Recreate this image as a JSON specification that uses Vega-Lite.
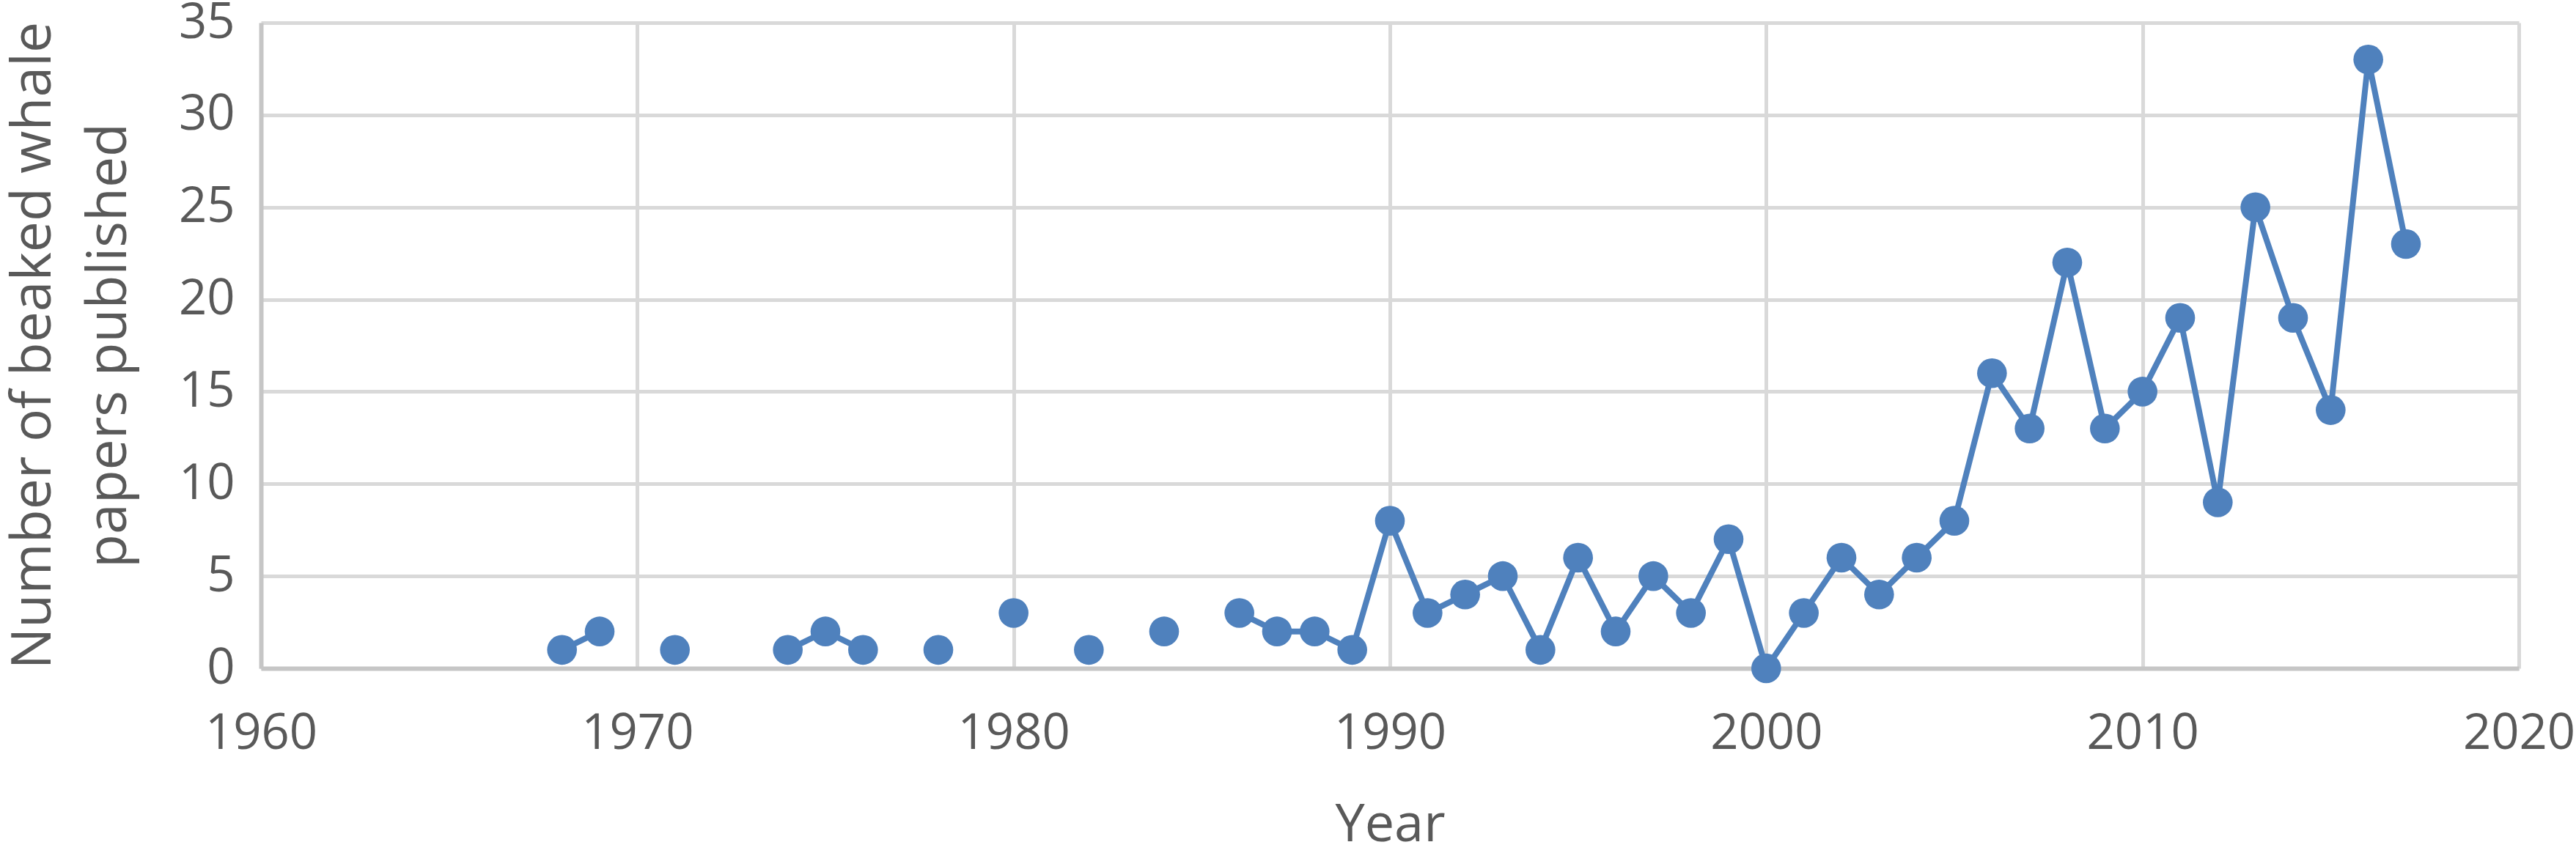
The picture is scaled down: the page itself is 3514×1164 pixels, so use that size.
{
  "$schema": "https://vega.github.io/schema/vega-lite/v6.json",
  "width": 3080,
  "height": 881,
  "autosize": {"type": "none"},
  "padding": {"left": 356, "top": 31, "right": 78, "bottom": 252},
  "background": "white",
  "config": {
    "view": {"stroke": null},
    "font": "Open Sans",
    "axis": {
      "gridColor": "#d9d9d9",
      "gridWidth": 5,
      "domainColor": "#c6c6c6",
      "domainWidth": 6,
      "ticks": false,
      "labelFont": "Open Sans",
      "labelColor": "#595959",
      "labelFontSize": 67,
      "titleFont": "Open Sans",
      "titleColor": "#595959",
      "titleFontWeight": "normal"
    }
  },
  "data": {
    "values": [
      {"year": 1968, "papers": 1, "run": "a"},
      {"year": 1969, "papers": 2, "run": "a"},
      {"year": 1971, "papers": 1, "run": "b"},
      {"year": 1974, "papers": 1, "run": "c"},
      {"year": 1975, "papers": 2, "run": "c"},
      {"year": 1976, "papers": 1, "run": "c"},
      {"year": 1978, "papers": 1, "run": "d"},
      {"year": 1980, "papers": 3, "run": "e"},
      {"year": 1982, "papers": 1, "run": "f"},
      {"year": 1984, "papers": 2, "run": "g"},
      {"year": 1986, "papers": 3, "run": "h"},
      {"year": 1987, "papers": 2, "run": "h"},
      {"year": 1988, "papers": 2, "run": "h"},
      {"year": 1989, "papers": 1, "run": "h"},
      {"year": 1990, "papers": 8, "run": "h"},
      {"year": 1991, "papers": 3, "run": "h"},
      {"year": 1992, "papers": 4, "run": "h"},
      {"year": 1993, "papers": 5, "run": "h"},
      {"year": 1994, "papers": 1, "run": "h"},
      {"year": 1995, "papers": 6, "run": "h"},
      {"year": 1996, "papers": 2, "run": "h"},
      {"year": 1997, "papers": 5, "run": "h"},
      {"year": 1998, "papers": 3, "run": "h"},
      {"year": 1999, "papers": 7, "run": "h"},
      {"year": 2000, "papers": 0, "run": "h"},
      {"year": 2001, "papers": 3, "run": "h"},
      {"year": 2002, "papers": 6, "run": "h"},
      {"year": 2003, "papers": 4, "run": "h"},
      {"year": 2004, "papers": 6, "run": "h"},
      {"year": 2005, "papers": 8, "run": "h"},
      {"year": 2006, "papers": 16, "run": "h"},
      {"year": 2007, "papers": 13, "run": "h"},
      {"year": 2008, "papers": 22, "run": "h"},
      {"year": 2009, "papers": 13, "run": "h"},
      {"year": 2010, "papers": 15, "run": "h"},
      {"year": 2011, "papers": 19, "run": "h"},
      {"year": 2012, "papers": 9, "run": "h"},
      {"year": 2013, "papers": 25, "run": "h"},
      {"year": 2014, "papers": 19, "run": "h"},
      {"year": 2015, "papers": 14, "run": "h"},
      {"year": 2016, "papers": 33, "run": "h"},
      {"year": 2017, "papers": 23, "run": "h"}
    ]
  },
  "encoding": {
    "x": {
      "field": "year",
      "type": "quantitative",
      "scale": {"domain": [1960, 2020], "nice": false, "zero": false},
      "axis": {
        "values": [1960, 1970, 1980, 1990, 2000, 2010, 2020],
        "format": "d",
        "title": "Year",
        "titleFontSize": 72,
        "labelPadding": 56,
        "titlePadding": 56,
        "labelFlush": false
      }
    },
    "y": {
      "field": "papers",
      "type": "quantitative",
      "scale": {"domain": [0, 35], "nice": false},
      "axis": {
        "values": [0, 5, 10, 15, 20, 25, 30, 35],
        "title": ["Number of beaked whale", "papers published"],
        "titleFontSize": 75,
        "titleLineHeight": 103,
        "titleAngle": -90,
        "titleBaseline": "middle",
        "titleAlign": "center",
        "titleX": -311,
        "titleY": 440,
        "labelPadding": 36,
        "labelFlush": false
      }
    }
  },
  "layer": [
    {
      "mark": {"type": "line", "color": "#4F81BD", "strokeWidth": 8},
      "encoding": {"detail": {"field": "run", "type": "nominal"}}
    },
    {
      "mark": {"type": "point", "filled": true, "shape": "circle", "size": 1650, "color": "#4F81BD", "opacity": 1}
    }
  ]
}
